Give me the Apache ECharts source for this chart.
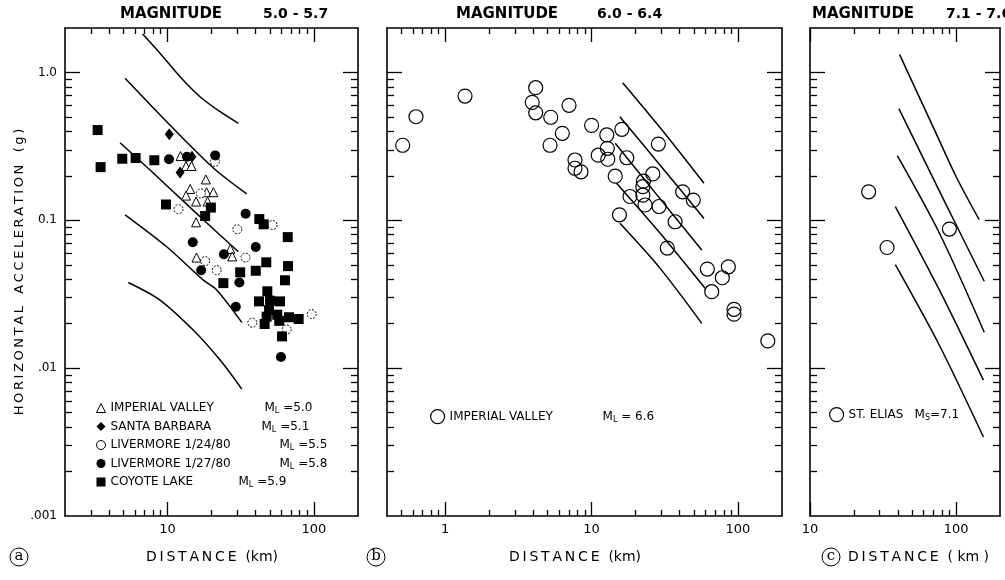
<!DOCTYPE html>
<html>
<head>
<meta charset="utf-8">
<script src="https://cdn.jsdelivr.net/npm/echarts@6.0.0/dist/echarts.min.js"></script>
<style>
  html, body { margin: 0; background: #fff; }
  #chart { width: 1005px; height: 580px; }
</style>
</head>
<body>
<div id="chart"></div>
<script>
// ---- data: [distance km, horizontal acceleration g] ----
// (a) magnitude 5.0 - 5.7
const impValley50 = [[12.3,0.272],[13.4,0.233],[14.6,0.233],[18.3,0.189],[14.3,0.163],[13.4,0.147],[18.5,0.155],[20.6,0.155],[15.7,0.134],[18.8,0.134],[15.7,0.097],[15.8,0.056],[26.9,0.064],[27.7,0.057]]
const santaBarbara = [[10.3,0.382],[12.2,0.211],[14.7,0.269]]
const livermore0124 = [[21.1,0.249],[11.9,0.119],[16.9,0.152],[30.0,0.087],[34.1,0.056],[18.1,0.053],[21.7,0.046],[52.2,0.093],[38.0,0.0203],[65.2,0.0183],[96.6,0.0232]]
const livermore0127 = [[10.25,0.259],[21.2,0.275],[34.2,0.111],[14.9,0.071],[24.3,0.059],[40.1,0.066],[17.0,0.046],[31.0,0.038],[29.3,0.026],[59.6,0.0119],[13.6,0.269]]
const coyoteLake = [[3.34,0.408],[3.50,0.229],[4.92,0.261],[6.07,0.264],[8.14,0.255],[9.78,0.128],[18.1,0.107],[19.8,0.122],[42.4,0.102],[45.4,0.094],[66.3,0.077],[47.3,0.052],[66.6,0.049],[31.4,0.0445],[40.1,0.0456],[24.1,0.0376],[63.5,0.0393],[48.1,0.0331],[42.2,0.0283],[50.2,0.0286],[58.7,0.0283],[49.4,0.0247],[47.6,0.0223],[56.2,0.023],[67.6,0.0221],[78.7,0.0215],[46.1,0.0199],[58.0,0.0209],[60.6,0.0164]]
const curvesA = [
  [[6.78,1.82],[8.90,1.35],[12.2,0.937],[16.7,0.686],[22.9,0.543],[30.5,0.453]],
  [[5.14,0.913],[10.4,0.441],[20.6,0.226],[34.8,0.151]],
  [[4.75,0.335],[7.61,0.219],[15.4,0.114],[30.5,0.0613]],
  [[5.14,0.109],[9.89,0.0663],[17.6,0.0394],[21.7,0.0338],[32.2,0.0204]],
  [[5.41,0.038],[8.9,0.0289],[15.0,0.0181],[22.9,0.01134],[32.2,0.00722]]
]
// (b) magnitude 6.0 - 6.4
const impValley66 = [[0.512,0.322],[0.631,0.502],[1.365,0.693],[4.15,0.789],[3.93,0.628],[4.15,0.534],[5.26,0.498],[7.01,0.600],[6.31,0.388],[5.20,0.322],[10.0,0.439],[12.7,0.378],[16.1,0.413],[12.8,0.307],[11.1,0.276],[12.9,0.259],[7.70,0.256],[7.70,0.225],[8.47,0.213],[17.4,0.265],[28.6,0.328],[14.5,0.199],[22.6,0.184],[26.2,0.206],[22.4,0.169],[18.3,0.145],[22.4,0.148],[23.2,0.127],[28.9,0.124],[41.9,0.156],[37.2,0.0978],[32.9,0.0649],[15.5,0.109],[49.5,0.137],[61.8,0.0468],[86.0,0.0485],[78.2,0.0409],[66.2,0.0329],[94.0,0.0250],[94.0,0.0232],[160,0.0153]]
const curvesB = [
  [[16.3,0.853],[30.3,0.408],[58.6,0.178]],
  [[15.6,0.502],[29.3,0.237],[58.6,0.103]],
  [[14.5,0.332],[27.6,0.151],[56.6,0.063]],
  [[14.8,0.178],[29.3,0.082],[59.6,0.0347]],
  [[15.6,0.0954],[29.3,0.0475],[56.6,0.0201]]
]
// (c) magnitude 7.1 - 7.6
const stElias = [[25.2,0.156],[33.7,0.0655],[90.1,0.0873]]
const curvesC = [
  [[41.1,1.32],[69.4,0.432],[100,0.198],[144,0.101]],
  [[40.6,0.570],[81.1,0.142],[156,0.0387]],
  [[39.6,0.274],[77.0,0.0818],[156,0.0175]],
  [[38.4,0.124],[77.0,0.0337],[154,0.0083]],
  [[38.4,0.0501],[77.0,0.01424],[154,0.00342]]
]

// axes
const xRanges = [[2, 200], [0.4, 200], [10, 200]]
const xMajor = [[10, 100], [1, 10, 100], [10, 100]]
const xMinor = [
  [3,4,5,6,7,8,9,20,30,40,50,60,70,80,90],
  [0.5,0.6,0.7,0.8,0.9,2,3,4,5,6,7,8,9,20,30,40,50,60,70,80,90],
  [20,30,40,50,60,70,80,90]
]
const yRange = [0.001, 2]
const yMajor = [0.01, 0.1, 1]
const yMinor = [0.002,0.003,0.004,0.005,0.006,0.007,0.008,0.009,0.02,0.03,0.04,0.05,0.06,0.07,0.08,0.09,0.2,0.3,0.4,0.5,0.6,0.7,0.8,0.9]
const yLabels = [0.001, 0.01, 0.1, 1]
const yLabelText = { 0.001: '.001', 0.01: '.01', 0.1: '0.1', 1: '1.0' }

const titles = [['MAGNITUDE', '5.0 - 5.7'], ['MAGNITUDE', '6.0 - 6.4'], ['MAGNITUDE', '7.1 - 7.6']]
const legendNamesA = ['IMPERIAL VALLEY', 'SANTA BARBARA', 'LIVERMORE 1/24/80', 'LIVERMORE 1/27/80', 'COYOTE LAKE']
const legendMagsA = ['5.0', '5.1', '5.5', '5.8', '5.9']

const FONT = 'DejaVu Sans'
const rects = [[65, 28, 293, 488], [387, 28, 395, 488], [810, 28, 190, 488]]
// lettering on the original is spread out a little
const spread = s => s.split('').join('\u2009')

const chart = echarts.init(document.getElementById('chart'))

const grid = [...rects, ...rects].map(r => ({ left: r[0], top: r[1], width: r[2], height: r[3] }))
const xAxis = []
const yAxis = []

function logAxis(gi, pos, range, ticks, len, line, labels, extra) {
  return Object.assign({
    type: 'log', logBase: 10, gridIndex: gi, position: pos,
    min: range[0], max: range[1],
    splitLine: { show: false },
    axisLine: { show: line, lineStyle: { color: '#000', width: 1.6 } },
    axisTick: { show: true, inside: true, length: len, customValues: ticks, lineStyle: { color: '#000', width: 1.3 } },
    axisLabel: labels ? Object.assign({ show: true, customValues: labels, color: '#000', fontFamily: FONT, fontSize: 13 }, labels.style) : { show: false }
  }, extra || {})
}

rects.forEach((r, i) => {
  // main axes: frame + long ticks
  xAxis.push(logAxis(i, 'bottom', xRanges[i], xMajor[i], 14, true,
    Object.assign(xMajor[i].slice(), { style: { margin: 7 } })))
  xAxis.push(logAxis(i, 'top', xRanges[i], xMajor[i], 14, true, null))
  yAxis.push(logAxis(i, 'left', yRange, yMajor, 15, true,
    i === 0 ? Object.assign(yLabels.slice(), { style: { margin: 8, fontSize: 12, formatter: v => yLabelText[v] || '' } }) : null,
    i === 0 ? { name: spread('HORIZONTAL') + '   ' + spread('ACCELERATION') + '   ' + spread('(g)'),
      nameLocation: 'middle', nameRotate: 90, nameGap: 35,
      nameTextStyle: { color: '#000', fontFamily: FONT, fontSize: 13 } } : null))
  yAxis.push(logAxis(i, 'right', yRange, yMajor, 15, true, null))
})
rects.forEach((r, i) => {
  // overlay axes: short minor ticks
  xAxis.push(logAxis(3 + i, 'bottom', xRanges[i], xMinor[i], 6, false, null))
  xAxis.push(logAxis(3 + i, 'top', xRanges[i], xMinor[i], 6, false, null))
  yAxis.push(logAxis(3 + i, 'left', yRange, yMinor, 7, false, null))
  yAxis.push(logAxis(3 + i, 'right', yRange, yMinor, 7, false, null))
})

const series = []
function scatter(name, data, panel, symbol, size, style) {
  series.push({
    name, type: 'scatter', data, xAxisIndex: panel * 2, yAxisIndex: panel * 2,
    symbol, symbolSize: size, itemStyle: Object.assign({ opacity: 1 }, style), z: 3
  })
}
const filled = { color: '#000' }
const hollow = { color: '#fff', borderColor: '#000', borderWidth: 1 }
const ring = { color: 'rgba(255,255,255,0)', borderColor: '#000', borderWidth: 1.2 }

scatter('iv50', impValley50, 0, 'triangle', 9, hollow)
scatter('sb51', santaBarbara, 0, 'diamond', [9, 12], filled)
scatter('lv24', livermore0124, 0, 'circle', 9, { color: '#fff', borderColor: '#000', borderWidth: 1, borderType: [2, 1.5] })
scatter('lv27', livermore0127, 0, 'circle', 10, filled)
scatter('cl59', coyoteLake, 0, 'rect', 10, filled)
scatter('iv66', impValley66, 1, 'circle', 14, ring)
scatter('se71', stElias, 2, 'circle', 14, ring)

;[curvesA, curvesB, curvesC].forEach((set, p) => {
  set.forEach(c => series.push({
    type: 'line', data: c, xAxisIndex: p * 2, yAxisIndex: p * 2,
    showSymbol: false, smooth: 0.3, lineStyle: { color: '#000', width: 1.5 }, z: 2, silent: true
  }))
})

const subRich = {
  m: { fontSize: 12, fontFamily: FONT, color: '#000' },
  s: { fontSize: 8, fontFamily: FONT, color: '#000', verticalAlign: 'bottom', lineHeight: 8 },
  v: { fontSize: 12, fontFamily: FONT, color: '#000' }
}
const nameWidths = [154, 151, 169, 169, 128]
const richA = Object.assign({}, subRich)
nameWidths.forEach((w, k) => { richA['n' + k] = { width: w, fontSize: 12, fontFamily: FONT, color: '#000' } })
const keysA = ['iv50', 'sb51', 'lv24', 'lv27', 'cl59']

const legend = [
  {
    data: keysA, orient: 'vertical', left: 91, top: 396, itemGap: 4.5,
    itemWidth: 9, itemHeight: 9, selectedMode: false,
    itemStyle: { borderWidth: 1 },
    textStyle: { lineHeight: 14, rich: richA },
    formatter: n => {
      const k = keysA.indexOf(n)
      return `{n${k}|${legendNamesA[k]}}{m|M}{s|L}{v| =${legendMagsA[k]}}`
    }
  },
  {
    data: ['iv66'], left: 425, top: 404, itemWidth: 14, itemHeight: 14, selectedMode: false,
    itemStyle: { borderWidth: 1.2 },
    textStyle: { lineHeight: 14, rich: Object.assign({ n: { width: 153, fontSize: 12, fontFamily: FONT, color: '#000' } }, subRich) },
    formatter: () => '{n|IMPERIAL VALLEY}{m|M}{s|L}{v| = 6.6}'
  },
  {
    data: ['se71'], left: 824, top: 402, itemWidth: 14, itemHeight: 14, selectedMode: false,
    itemStyle: { borderWidth: 1.2 },
    textStyle: { lineHeight: 14, rich: Object.assign({ n: { width: 66, fontSize: 12, fontFamily: FONT, color: '#000' } }, subRich) },
    formatter: () => '{n|ST. ELIAS}{m|M}{s|S}{v|=7.1}'
  }
]

const txt = (x, y, text, font, align) => ({
  type: 'text', x, y, silent: true,
  style: { text, fill: '#000', font, align: align || 'left', verticalAlign: 'middle' }
})
const titleX = [[120, 263], [456, 597], [812, 946]]
const graphic = []
titles.forEach((t, i) => {
  graphic.push(txt(titleX[i][0], 14, t[0], 'bold 15px ' + FONT))
  graphic.push(txt(titleX[i][1], 14, t[1], 'bold 14px ' + FONT))
})
graphic.push(txt(212, 557, spread('DISTANCE') + '  (km)', '14px ' + FONT, 'center'))
graphic.push(txt(575, 557, spread('DISTANCE') + '  (km)', '14px ' + FONT, 'center'))
graphic.push(txt(848, 557, spread('DISTANCE') + '  ( km )', '14px ' + FONT, 'left'))
;[[19, 'a'], [376, 'b'], [831, 'c']].forEach(([x, l]) => {
  graphic.push({ type: 'circle', shape: { cx: x, cy: 557, r: 9 }, style: { fill: 'none', stroke: '#000', lineWidth: 1 }, silent: true })
  graphic.push(txt(x, 556, l, '15px DejaVu Serif', 'center'))
})

chart.setOption({
  animation: false,
  backgroundColor: '#fff',
  textStyle: { fontFamily: FONT, color: '#000' },
  grid, xAxis, yAxis, series, legend, graphic
})
window.addEventListener('resize', () => chart.resize())
</script>
</body>
</html>
